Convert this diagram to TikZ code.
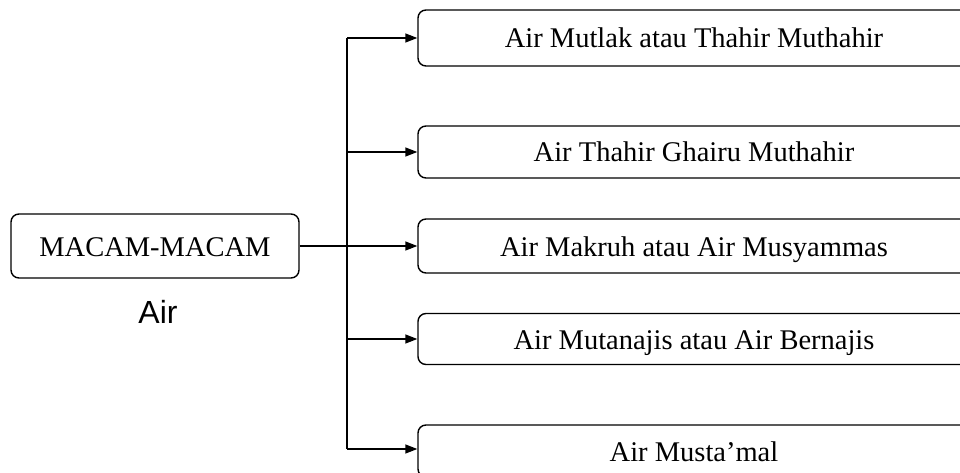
\documentclass[tikz,border=0pt]{standalone}
\usepackage{fontspec}
\setmainfont{Liberation Serif}
\newfontfamily\airsans{Liberation Sans}
\usetikzlibrary{arrows.meta}
\tikzset{
  box/.style={draw=black, line width=1.4pt, rounded corners=8pt, rectangle,
    inner sep=0pt, text height=20pt, text depth=0pt,
    font=\fontsize{28.5}{34}\selectfont},
  conn/.style={draw=black, line width=1.4pt},
  arr/.style={conn, -{Triangle[length=12pt,width=9pt]}}
}
\begin{document}
\begin{tikzpicture}[x=1pt,y=-1pt]
\useasboundingbox (0,0) rectangle (960,473);
\clip (0,0) rectangle (960,473);
\fill[white] (0,0) rectangle (960,473);
\node[box, minimum width=288pt, minimum height=64pt] (macam) at (155,246) {MACAM-MACAM};
\node[anchor=base, font=\airsans\fontsize{32}{38}\selectfont] (air) at (158,323) {Air};
\node[box, minimum width=552pt, minimum height=56pt] (b1) at (694,38) {Air Mutlak atau Thahir Muthahir};
\node[box, minimum width=552pt, minimum height=52pt] (b2) at (694,152) {Air Thahir Ghairu Muthahir};
\node[box, minimum width=552pt, minimum height=54pt] (b3) at (694,246) {Air Makruh atau Air Musyammas};
\node[box, minimum width=552pt, minimum height=51pt] (b4) at (694,339) {Air Mutanajis atau Air Bernajis};
\node[box, minimum width=552pt, minimum height=52pt] (b5) at (694,451) {Air Musta’mal};
\coordinate (spine) at (347,246);
\coordinate (e5) at (b5.west |- 0,449);
\draw[conn] (spine |- b1.west) -- (spine |- e5);
\draw[arr] (macam.east) -- (b3.west);
\draw[arr] (spine |- b1.west) -- (b1.west);
\draw[arr] (spine |- b2.west) -- (b2.west);
\draw[arr] (spine |- b4.west) -- (b4.west);
\draw[arr] (spine |- e5) -- (e5);
\end{tikzpicture}
\end{document}
